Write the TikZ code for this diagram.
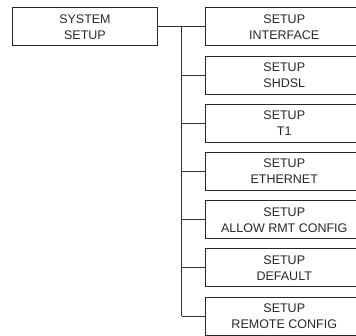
\documentclass[tikz,border=0pt]{standalone}
\usepackage{fontspec}
\setmainfont{Liberation Sans}
\begin{document}
\begin{tikzpicture}[x=1pt,y=-1pt,
  box/.style={draw=black!85, line width=0.9pt, minimum height=38pt, inner sep=0pt,
    align=center, font=\fontsize{12.5}{16}\selectfont, text=black!85},
  sysbox/.style={box, minimum width=145pt},
  subbox/.style={box, minimum width=157pt},
  conn/.style={draw=black!80, line width=0.9pt}]
\useasboundingbox (0,0) rectangle (356,336);
\clip (0,0) rectangle (356,336);
\node[sysbox, anchor=north west] (sys) at (12,7.5) {SYSTEM\\SETUP};
\foreach \k/\t [count=\i] in {0/INTERFACE,1/SHDSL,2/T1,3/ETHERNET,4/ALLOW RMT CONFIG,5/DEFAULT,6/REMOTE CONFIG}{
  \node[subbox, anchor=north west] (b\i) at (205.3,7.5+48.2*\k) {SETUP\\\t};
}
\coordinate (top) at (181.5,0 |- sys.east);
\draw[conn] (sys.east) -- (b1.west);
\coordinate (bot) at (181.5,0 |- b7.west);
\draw[conn] (181.5,0 |- sys.east) -- (bot);
\foreach \i in {2,...,7}{
  \draw[conn] (181.5,0 |- b\i.west) -- (b\i.west);
}
\end{tikzpicture}
\end{document}
